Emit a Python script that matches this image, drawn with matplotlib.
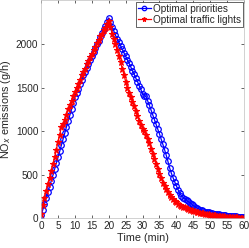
import numpy as np
import matplotlib
matplotlib.use('Agg')
import matplotlib.pyplot as plt

# time axis in minutes, one sample every half minute
time_min = np.arange(0, 60.5, 0.5)

# NOx emissions (g/h), optimal priorities
nox_priorities = [
    40, 100, 165, 230, 300, 365, 430, 495, 565, 635,
    700, 770, 840, 910, 980, 1050, 1120, 1185, 1250, 1320,
    1390, 1440, 1490, 1540, 1590, 1640, 1685, 1730, 1775, 1820,
    1865, 1910, 1955, 2000, 2040, 2085, 2125, 2170, 2210, 2255,
    2300,
    2250, 2200, 2150, 2100, 2060, 2020, 1980, 1940, 1900, 1860,
    1820, 1780, 1740, 1695, 1655, 1610, 1570, 1525, 1480, 1430,
    1410, 1400, 1350, 1300, 1245, 1190, 1135, 1080, 1025, 970,
    910, 850, 790, 725, 655, 580, 520, 470, 420, 375,
    330, 290, 260, 240, 225, 210, 195, 180, 165, 150,
    135, 122, 110, 100, 92, 85, 79, 74, 69, 65,
    61, 57, 54, 51, 48, 45, 42, 39, 36, 34,
    32, 30, 28, 26, 24, 22, 20, 18, 16, 14,
]

# NOx emissions (g/h), optimal traffic lights
nox_lights = [
    50, 150, 240, 320, 400, 470, 545, 620, 700, 790,
    880, 960, 1050, 1080, 1130, 1190, 1250, 1300, 1350, 1400,
    1450, 1500, 1540, 1590, 1640, 1680, 1720, 1770, 1810, 1850,
    1890, 1930, 1970, 2010, 2050, 2090, 2120, 2160, 2190, 2230,
    2270,
    2200, 2120, 2060, 2000, 1930, 1860, 1790, 1720, 1650, 1570,
    1500, 1440, 1390, 1340, 1285, 1230, 1175, 1120, 1075, 1030,
    1000, 960, 910, 860, 800, 740, 680, 620, 565, 510,
    465, 410, 370, 335, 300, 270, 245, 222, 202, 185,
    170, 158, 147, 137, 128, 119, 111, 103, 96, 89,
    83, 77, 72, 67, 62, 58, 54, 50, 47, 44,
    41, 38, 35, 33, 30, 28, 26, 24, 22, 20,
    18, 17, 15, 14, 13, 12, 11, 10, 9, 9,
]

plt.rcParams['font.family'] = ['Liberation Sans', 'DejaVu Sans']
text_col = '#262626'

fig = plt.figure(figsize=(2.49, 2.48), dpi=100)
ax = fig.add_axes([0.165, 0.119, 0.815, 0.879])

ax.plot(time_min, nox_priorities, color='b', marker='o', markersize=4,
        markerfacecolor='none', markeredgewidth=0.9, linewidth=0.9,
        label='Optimal priorities')
ax.plot(time_min, nox_lights, color='r', marker='*', markersize=4.5,
        markeredgewidth=0.8, linewidth=0.9, label='Optimal traffic lights')

ax.set_xlim(0, 60)
ax.set_ylim(0, 2500)
ax.set_xticks(np.arange(0, 61, 5))
ax.set_yticks([0, 500, 1000, 1500, 2000])

ax.tick_params(direction='in', top=True, right=True, length=2.5, width=0.5,
               labelsize=7.2, colors=text_col, pad=2)
for s in ax.spines.values():
    s.set_linewidth(0.5)
    s.set_color('#bfbfbf')

ax.set_xlabel('Time (min)', fontsize=7.8, color=text_col, labelpad=1)
ax.set_ylabel('NO$_x$ emissions (g/h)', fontsize=7.8, color=text_col, labelpad=2)

leg = ax.legend(loc='upper right', fontsize=7.2, handlelength=1.3,
                handletextpad=0.2, borderpad=0.2, labelspacing=0.1,
                borderaxespad=0.15, fancybox=False, framealpha=1,
                markerscale=0.8)
leg.get_frame().set_edgecolor('#262626')
leg.get_frame().set_linewidth(0.5)
for t in leg.get_texts():
    t.set_color(text_col)

fig.savefig('out.png', dpi=100)
